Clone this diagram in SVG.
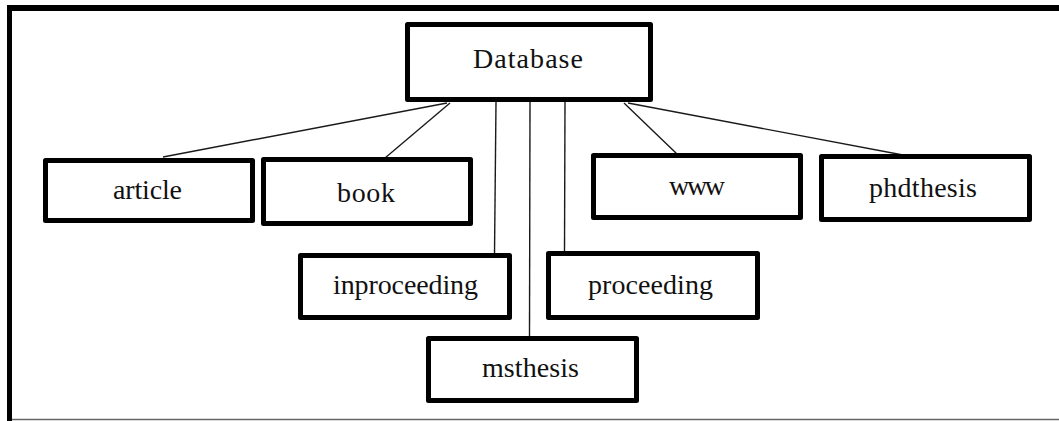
<svg xmlns="http://www.w3.org/2000/svg" width="1059" height="421" viewBox="0 0 1059 421">
  <style>
    .box { fill: #ffffff; stroke: #000000; stroke-width: 5; stroke-linejoin: round; }
    .lbl { font-family: "Liberation Serif", "Times New Roman", serif; font-size: 28px; fill: #111111; text-anchor: middle; }
    .edge { stroke: #1a1a1a; stroke-width: 1.4; fill: none; }
  </style>
  <rect x="0" y="0" width="1059" height="421" fill="#ffffff"/>

  <!-- frame -->
  <g id="frame">
    <line x1="7" y1="8" x2="1059" y2="8" stroke="#000" stroke-width="6"/>
    <line x1="9.5" y1="5" x2="9.5" y2="421" stroke="#000" stroke-width="5"/>
    <line x1="12" y1="419.5" x2="1059" y2="419.5" stroke="#666" stroke-width="1.6"/>
  </g>

  <!-- connectors -->
  <g id="connectors">
    <line class="edge" x1="447" y1="103" x2="163" y2="157"/>
    <line class="edge" x1="450" y1="103" x2="385" y2="158"/>
    <line class="edge" x1="496" y1="102" x2="494.5" y2="254"/>
    <line class="edge" x1="530" y1="102" x2="529.5" y2="337"/>
    <line class="edge" x1="565" y1="102" x2="564.5" y2="252"/>
    <line class="edge" x1="624" y1="103" x2="677" y2="154"/>
    <line class="edge" x1="628" y1="103" x2="903" y2="155"/>
  </g>

  <g id="database">
    <rect class="box" x="407.5" y="24.5" width="243" height="75"/>
    <text class="lbl" x="528" y="68" textLength="110" lengthAdjust="spacing">Database</text>
  </g>
  <g id="article">
    <rect class="box" x="45.5" y="160.5" width="207" height="60"/>
    <text class="lbl" x="147.5" y="199" textLength="69" lengthAdjust="spacing">article</text>
  </g>
  <g id="book">
    <rect class="box" x="263.5" y="159.5" width="207" height="64"/>
    <text class="lbl" x="366" y="202" textLength="58" lengthAdjust="spacing">book</text>
  </g>
  <g id="www">
    <rect class="box" x="593.5" y="155.5" width="207" height="62"/>
    <text class="lbl" x="697" y="195" textLength="56" lengthAdjust="spacing">www</text>
  </g>
  <g id="phdthesis">
    <rect class="box" x="821.5" y="156.5" width="208" height="63"/>
    <text class="lbl" x="923" y="197" textLength="108" lengthAdjust="spacing">phdthesis</text>
  </g>
  <g id="inproceeding">
    <rect class="box" x="300.5" y="255.5" width="209" height="62"/>
    <text class="lbl" x="405.5" y="294" textLength="145" lengthAdjust="spacing">inproceeding</text>
  </g>
  <g id="proceeding">
    <rect class="box" x="548.5" y="253.5" width="209" height="64"/>
    <text class="lbl" x="650.5" y="294" textLength="125" lengthAdjust="spacing">proceeding</text>
  </g>
  <g id="msthesis">
    <rect class="box" x="428.5" y="338.5" width="208" height="62"/>
    <text class="lbl" x="530.5" y="377" textLength="97" lengthAdjust="spacing">msthesis</text>
  </g>
</svg>
